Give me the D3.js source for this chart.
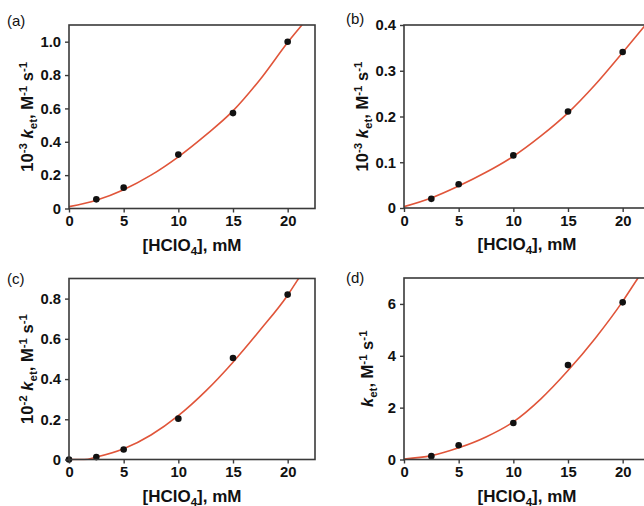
<!DOCTYPE html>
<html>
<head>
<meta charset="utf-8">
<script src="https://cdn.jsdelivr.net/npm/d3@7"></script>
<style>
  html, body { margin: 0; padding: 0; background: #fff; overflow: hidden; }
  svg { display: block; font-family: "Liberation Sans", Arial, sans-serif; }
</style>
</head>
<body>
<svg id="chart" width="644" height="506"></svg>
<script>
// [HClO4] (mM) at which ket was measured
const concA = [2.5, 5, 10, 15, 20];
const concB = [2.5, 5, 10, 15, 20];
const concC = [0, 2.5, 5, 10, 15, 20];
const concD = [2.5, 5, 10, 15, 20];

// measured rate constants
const ketA = [0.055, 0.125, 0.323, 0.572, 1.0];    // 10^-3 ket
const ketB = [0.020, 0.052, 0.115, 0.211, 0.341];  // 10^-3 ket
const ketC = [0.0, 0.012, 0.050, 0.203, 0.505, 0.820]; // 10^-2 ket
const ketD = [0.13, 0.55, 1.41, 3.64, 6.06];       // ket

// fitted curves, sampled along [HClO4]
const fitConcA = [0, 2.5, 5, 7.5, 10, 12.5, 15, 17.5, 20, 21.3, 22.5];
const fitA     = [0.011, 0.05, 0.113, 0.2, 0.31, 0.44, 0.585, 0.775, 0.995, 1.1, 1.2];
const fitConcB = [0, 2.5, 5, 7.5, 10, 12.5, 15, 17.5, 20, 22.5];
const fitB     = [0.003, 0.022, 0.048, 0.078, 0.113, 0.157, 0.208, 0.27, 0.34, 0.412];
const fitConcC = [0, 1.4, 2.5, 5, 7.5, 10, 12.5, 15, 17.5, 20, 21, 22.5];
const fitC     = [0, 0, 0.012, 0.053, 0.122, 0.218, 0.34, 0.484, 0.645, 0.817, 0.9, 1.03];
const fitConcD = [0, 2.5, 5, 7.5, 10, 12.5, 15, 17.5, 20, 21.4, 22.5];
const fitD     = [0.02, 0.15, 0.45, 0.87, 1.45, 2.33, 3.43, 4.68, 6.1, 7.0, 7.7];

// axis ticks
const xTicks  = [0, 5, 10, 15, 20];
const yTicksA = [0, 0.2, 0.4, 0.6, 0.8, 1.0];
const yTicksB = [0, 0.1, 0.2, 0.3, 0.4];
const yTicksC = [0, 0.2, 0.4, 0.6, 0.8];
const yTicksD = [0, 2, 4, 6];

const panelLabels = ["(a)", "(b)", "(c)", "(d)"];

const svg = d3.select("#chart");
const frameColor = "#3a3a3a";
const fitColor = "#e0553a";

const panels = [
  { id: "a", label: panelLabels[0], box: [69, 315, 25, 208.5], yMax: 1.1, yTicks: yTicksA,
    conc: concA, ket: ketA, fitConc: fitConcA, fit: fitA, exp: "-3", labelPos: [7, 26] },
  { id: "b", label: panelLabels[1], box: [404, 650, 25, 208], yMax: 0.4, yTicks: yTicksB,
    conc: concB, ket: ketB, fitConc: fitConcB, fit: fitB, exp: "-3", labelPos: [346, 24] },
  { id: "c", label: panelLabels[2], box: [69, 315, 278.5, 459.5], yMax: 0.9, yTicks: yTicksC,
    conc: concC, ket: ketC, fitConc: fitConcC, fit: fitC, exp: "-2", labelPos: [7, 284] },
  { id: "d", label: panelLabels[3], box: [404, 650, 278, 459.5], yMax: 7, yTicks: yTicksD,
    conc: concD, ket: ketD, fitConc: fitConcD, fit: fitD, exp: null, labelPos: [346, 283] }
];

panels.forEach(p => {
  const [x0, x1, y0, y1] = p.box;
  const x = d3.scaleLinear().domain([0, 22.5]).range([x0, x1]);
  const y = d3.scaleLinear().domain([0, p.yMax]).range([y1, y0]);
  const g = svg.append("g");

  // clip region for the fitted curve
  svg.append("clipPath").attr("id", "clip-" + p.id)
    .append("rect").attr("x", x0).attr("y", y0).attr("width", x1 - x0).attr("height", y1 - y0 + 1);

  // fitted curve
  const line = d3.line().x(d => x(d[0])).y(d => y(d[1])).curve(d3.curveMonotoneX);
  g.append("path")
    .datum(p.fitConc.map((c, i) => [c, p.fit[i]]))
    .attr("clip-path", "url(#clip-" + p.id + ")")
    .attr("d", line)
    .attr("fill", "none")
    .attr("stroke", fitColor)
    .attr("stroke-width", 1.6);

  // data points
  g.selectAll("circle.pt")
    .data(p.conc.map((c, i) => [c, p.ket[i]]))
    .join("circle")
    .attr("class", "pt")
    .attr("cx", d => x(d[0]))
    .attr("cy", d => y(d[1]))
    .attr("r", 3.3)
    .attr("fill", "#111");

  // frame
  g.append("rect")
    .attr("x", x0).attr("y", y0)
    .attr("width", x1 - x0).attr("height", y1 - y0)
    .attr("fill", "none").attr("stroke", frameColor).attr("stroke-width", 1.6);

  // axes
  const xAxis = g.append("g").attr("transform", `translate(0,${y1})`)
    .call(d3.axisBottom(x).tickValues(xTicks).tickSize(4).tickSizeOuter(0).tickPadding(3));
  const yAxis = g.append("g").attr("transform", `translate(${x0},0)`)
    .call(d3.axisLeft(y).tickValues(p.yTicks).tickSize(4).tickSizeOuter(0).tickPadding(4)
      .tickFormat(d => d === 0 ? "0" : (p.yMax > 2 ? d3.format("d")(d) : d3.format(".1f")(d))));
  [xAxis, yAxis].forEach(a => {
    a.select(".domain").remove();
    a.selectAll("line").attr("stroke", frameColor).attr("stroke-width", 1.4);
    a.selectAll("text").attr("fill", "#111").attr("font-size", 14.8).attr("font-weight", "bold")
      .attr("font-family", "'Liberation Sans', Arial, sans-serif");
  });

  // x title
  const xt = g.append("text")
    .attr("x", (x0 + Math.min(x1, 650)) / 2)
    .attr("y", y1 + 42)
    .attr("text-anchor", "middle")
    .attr("font-size", 17).attr("font-weight", "bold").attr("fill", "#111");
  xt.append("tspan").text("[HClO");
  xt.append("tspan").attr("font-size", 11.5).attr("dy", 4).text("4");
  xt.append("tspan").attr("dy", -4).text("], mM");

  // y title
  const yt = g.append("text")
    .attr("transform", `translate(${x0 - (p.exp ? 36 : 31)},${(y0 + y1) / 2}) rotate(-90)`)
    .attr("text-anchor", "middle")
    .attr("font-size", 16.5).attr("font-weight", "bold").attr("fill", "#111");
  if (p.exp) {
    yt.append("tspan").text("10");
    yt.append("tspan").attr("font-size", 11.5).attr("dy", -6).text(p.exp);
    yt.append("tspan").attr("dy", 6).text("\u00a0");
  }
  yt.append("tspan").attr("font-style", "italic").text("k");
  yt.append("tspan").attr("font-size", 11.5).attr("dy", 4).text("et");
  yt.append("tspan").attr("dy", -4).text(", M");
  yt.append("tspan").attr("font-size", 11.5).attr("dy", -6).text("-1");
  yt.append("tspan").attr("dy", 6).text(" s");
  yt.append("tspan").attr("font-size", 11.5).attr("dy", -6).text("-1");

  // panel label
  g.append("text")
    .attr("x", p.labelPos[0]).attr("y", p.labelPos[1])
    .attr("font-size", 15).attr("fill", "#111")
    .text(p.label);
});
</script>
</body>
</html>
